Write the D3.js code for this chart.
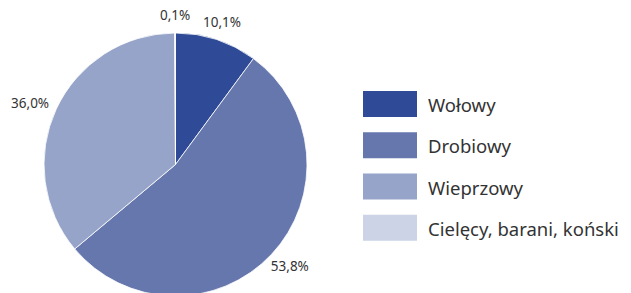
<!DOCTYPE html>
<html>
<head>
<meta charset="utf-8">
<script src="https://cdn.jsdelivr.net/npm/d3@7"></script>
<style>
  body { margin: 0; background: #fff; }
  text { font-family: "Noto Sans", "Open Sans", sans-serif; fill: #333; }
</style>
</head>
<body>
<svg id="chart" width="631" height="293"></svg>
<script>
// data
var categories = ["Wołowy", "Drobiowy", "Wieprzowy", "Cielęcy, barani, koński"];
var shares = [10.1, 53.8, 36.0, 0.1];
var labels = ["10,1%", "53,8%", "36,0%", "0,1%"];
var colors = ["#2f4a96", "#6677ae", "#97a4c9", "#cdd3e6"];

var svg = d3.select("#chart");
var cx = 175.5, cy = 164.5, radius = 131.5;

var pie = d3.pie().sort(null).value(function (d) { return d; });
var arc = d3.arc().innerRadius(0).outerRadius(radius);
var arcs = pie(shares);

var g = svg.append("g").attr("transform", "translate(" + cx + "," + cy + ")");

g.selectAll("path")
    .data(arcs)
    .enter().append("path")
    .attr("d", arc)
    .attr("fill", function (d, i) { return colors[i]; })
    .attr("stroke", "#fff")
    .attr("stroke-width", 0.8);

// labels outside the pie, pushed out by half their box
var labelR = 143;
g.selectAll("text.lbl")
    .data(arcs)
    .enter().append("text")
    .attr("class", "lbl")
    .style("font-size", "13.5px")
    .attr("text-anchor", "middle")
    .text(function (d, i) { return labels[i]; })
    .each(function (d) {
        var a = (d.startAngle + d.endAngle) / 2;
        var w = this.getComputedTextLength();
        var h = 14;
        var x = Math.sin(a) * (labelR + w / 2 * Math.abs(Math.sin(a)));
        var y = -Math.cos(a) * (labelR + h / 2 * Math.abs(Math.cos(a)));
        d3.select(this).attr("x", x).attr("y", y + 5);
    });

// legend
var legend = svg.append("g").attr("transform", "translate(363,91)");
var row = d3.scaleBand().domain(categories).range([0, 165]).paddingInner(0);

var item = legend.selectAll("g")
    .data(categories)
    .enter().append("g")
    .attr("transform", function (d) { return "translate(0," + row(d) + ")"; });

item.append("rect")
    .attr("width", 54)
    .attr("height", 26)
    .attr("fill", function (d, i) { return colors[i]; });

item.append("text")
    .attr("x", 65)
    .attr("y", 21)
    .style("font-size", "18.5px")
    .text(function (d) { return d; });
</script>
</body>
</html>
